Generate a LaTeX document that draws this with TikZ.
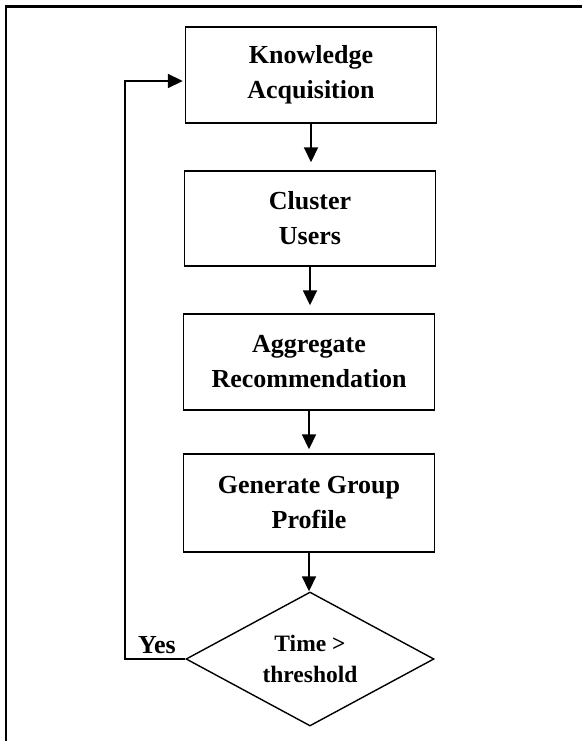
\documentclass[tikz,border=0pt]{standalone}
\usepackage{fontspec}
\setmainfont{Liberation Serif}
\usetikzlibrary{arrows.meta,shapes.geometric}

\begin{document}
\begin{tikzpicture}[x=1pt,y=1pt,
  stepbox/.style={draw,line width=1.4pt,rectangle,minimum width=251pt,
    align=center,inner sep=0pt,font=\fontsize{26}{35}\selectfont\bfseries},
  decision/.style={draw,line width=1.4pt,diamond,aspect=1.85,inner sep=0pt,
    minimum width=248pt,minimum height=134pt,align=center,
    font=\fontsize{23.5}{31}\selectfont\bfseries},
  flow/.style={line width=1.8pt,-{Triangle[length=15pt,width=14pt]}},
  tag/.style={font=\fontsize{26}{31}\selectfont\bfseries,inner sep=0pt}]
  % page frame (top and left rules)
  \useasboundingbox (0,0) rectangle (582,-741);
  \draw[line width=2.2pt] (6,-741) -- (6,-6.5) -- (582,-6.5);

  % process steps
  \node[stepbox,minimum height=96pt] (know) at (311,-75) {Knowledge\\Acquisition};
  \node[stepbox,minimum height=95pt] (clus) at (310,-218.5) {Cluster\\Users};
  \node[stepbox,minimum height=96pt] (aggr) at (309,-362) {Aggregate\\Recommendation};
  \node[stepbox,minimum height=98pt] (prof) at (309,-503) {Generate Group\\Profile};
  \node[decision] (dec) at (310,-659) {Time >\\threshold};

  % downward flow
  \draw[flow,shorten >=8pt] (know.south) -- (know.south |- clus.north);
  \draw[flow,shorten >=8pt] (clus.south) -- (clus.south |- aggr.north);
  \draw[flow,shorten >=4pt] (aggr.south) -- (aggr.south |- prof.north);
  \draw[flow] (prof.south) -- (prof.south |- dec.north);

  % feedback loop
  \coordinate (loop) at (125,-659);
  \draw[flow,shorten >=2pt] (dec.west) -- (loop) |- ([yshift=-6pt]know.west);
  \node[tag,anchor=base west] (yes) at (138,-653) {Yes};
\end{tikzpicture}
\end{document}
